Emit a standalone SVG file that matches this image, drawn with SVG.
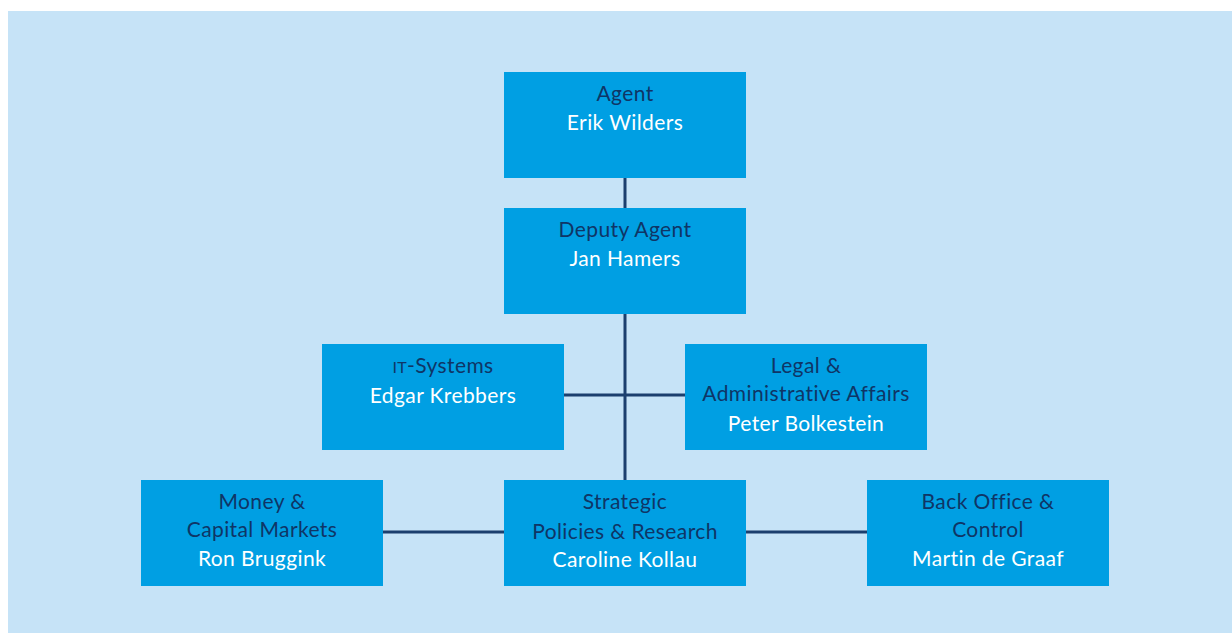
<svg xmlns="http://www.w3.org/2000/svg" width="1232" height="633" viewBox="0 0 1232 633">
<style>
.box{fill:#009fe3}
.t{font-family:Lato,"Open Sans",sans-serif;font-size:21px;text-anchor:middle;letter-spacing:0.4px}
.h{fill:#0f3566}
.n{fill:#ffffff}
.c{stroke:#1b3f6e;stroke-width:3;fill:none}
</style>
<rect x="0" y="0" width="1232" height="633" fill="#ffffff"/>
<rect x="8" y="11" width="1224" height="622" fill="#c6e3f7"/>
<g id="connectors">
<line class="c" x1="625" y1="178" x2="625" y2="480"/>
<line class="c" x1="564" y1="395" x2="685" y2="395"/>
<line class="c" x1="383" y1="532" x2="504" y2="532"/>
<line class="c" x1="746" y1="532" x2="867" y2="532"/>
</g>
<g id="agent">
<rect class="box" x="504" y="72" width="242" height="106"/>
<text class="t h" x="625" y="101">Agent</text>
<text class="t n" x="625" y="130">Erik Wilders</text>
</g>
<g id="deputy">
<rect class="box" x="504" y="208" width="242" height="106"/>
<text class="t h" x="625" y="237">Deputy Agent</text>
<text class="t n" x="625" y="266">Jan Hamers</text>
</g>
<g id="it">
<rect class="box" x="322" y="344" width="242" height="106"/>
<text class="t h" x="443" y="373"><tspan font-size="16">IT</tspan>-Systems</text>
<text class="t n" x="443" y="403">Edgar Krebbers</text>
</g>
<g id="legal">
<rect class="box" x="685" y="344" width="242" height="106"/>
<text class="t h" x="806" y="373">Legal &amp;</text>
<text class="t h" x="806" y="401">Administrative Affairs</text>
<text class="t n" x="806" y="431">Peter Bolkestein</text>
</g>
<g id="money">
<rect class="box" x="141" y="480" width="242" height="106"/>
<text class="t h" x="262" y="509">Money &amp;</text>
<text class="t h" x="262" y="537">Capital Markets</text>
<text class="t n" x="262" y="566">Ron Bruggink</text>
</g>
<g id="strategic">
<rect class="box" x="504" y="480" width="242" height="106"/>
<text class="t h" x="625" y="509">Strategic</text>
<text class="t h" x="625" y="539">Policies &amp; Research</text>
<text class="t n" x="625" y="567">Caroline Kollau</text>
</g>
<g id="backoffice">
<rect class="box" x="867" y="480" width="242" height="106"/>
<text class="t h" x="988" y="509">Back Office &amp;</text>
<text class="t h" x="988" y="537">Control</text>
<text class="t n" x="988" y="566">Martin de Graaf</text>
</g>
</svg>
